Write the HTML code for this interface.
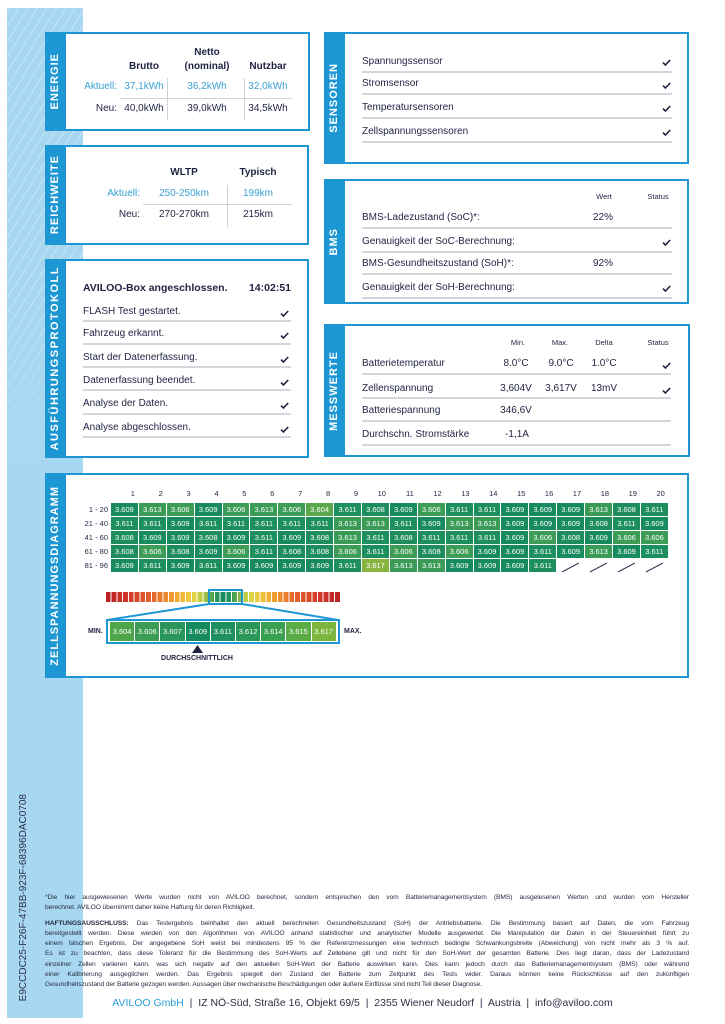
<!DOCTYPE html>
<html><head><meta charset="utf-8">
<style>
*{margin:0;padding:0;box-sizing:border-box}
html,body{width:725px;height:1024px;overflow:hidden;background:#fff;font-family:"Liberation Sans",Arial,sans-serif;color:#1f2342}
.strip{position:absolute;left:7px;top:8px;width:76px;height:1010px;background:#a8d8f1}
.stripes{position:absolute;left:7px;top:8px;width:76px;height:470px;background:repeating-linear-gradient(-58deg,rgba(255,255,255,0) 0 7px,rgba(255,255,255,.35) 7px 8px);-webkit-mask-image:linear-gradient(#000 60%,transparent);mask-image:linear-gradient(#000 60%,transparent)}
.p{position:absolute;border:2px solid #1c97d4;border-left:21px solid #1c97d4;background:#fff}
.tab{position:absolute;width:21px;display:flex;align-items:center;justify-content:center}
.tab span{writing-mode:vertical-rl;transform:rotate(180deg);color:#fff;font-weight:bold;font-size:11px;letter-spacing:1px;white-space:nowrap;line-height:1}
.t{position:absolute;white-space:nowrap;font-size:10px;line-height:12px;color:#1f2342}
.b{font-weight:bold}
.c{width:80px;text-align:center}
.r{width:80px;text-align:right}
.bl{color:#3aa1d3}
.sm{font-size:7.5px}
.hl{position:absolute;height:1.5px;background:#d3d6dc}
.gl{position:absolute;background:#cfd2d8}
.ck{position:absolute;width:9px;height:7px}
.grid{position:absolute;display:grid;grid-template-columns:repeat(20,26.9px);column-gap:1px;row-gap:1px;grid-auto-rows:13px}
.grid i{font-style:normal;color:#fff;font-size:7.5px;line-height:13px;text-align:center;position:relative}
.a04{background:#5aa84c}.a06{background:#3d9c56}.a08{background:#1e8d5d}.a09{background:#178a60}.a11{background:#1d8e5e}.a13{background:#3a9b57}.a17{background:#87b540}
.grid i.s::after{content:"";position:absolute;left:4px;top:8px;width:19px;height:1.4px;background:#1f2342;transform:rotate(-28deg)}
.hdr{position:absolute;display:grid;grid-template-columns:repeat(20,26.9px);column-gap:1px;left:111px;top:488px}
.hdr b{font-weight:normal;font-size:7.5px;line-height:12px;text-align:right;padding-right:3px;color:#1f2342}
.rl{position:absolute;left:56px;top:503px;width:52px;text-align:right;font-size:7.5px;line-height:14px;color:#1f2342}
.leg{position:absolute;left:110px;top:622px;display:grid;grid-template-columns:repeat(9,24.2px);column-gap:1px;grid-auto-rows:19px}
.leg i{font-style:normal;color:#fff;font-size:7.5px;line-height:19px;text-align:center}
.foot{position:absolute;left:45px;width:644px;font-size:6.7px;letter-spacing:-0.1px;line-height:10.15px;color:#2a2e45}
.foot div{text-align:justify;text-align-last:justify;white-space:normal;height:10.15px}
.foot div.last{text-align-last:left}
</style></head><body>

<div class="strip"></div>
<div class="stripes"></div>

<!-- vertical id -->
<div style="position:absolute;left:14px;top:790px;width:20px;height:216px;display:flex;align-items:center;justify-content:center">
<span style="writing-mode:vertical-rl;transform:rotate(180deg);font-size:10px;color:#2a2f4a;white-space:nowrap;line-height:1">E9CCDC25-F26F-47BB-923F-68396DAC0708</span></div>

<!-- panels -->
<div class="p" style="left:45px;top:32px;width:265px;height:99px"></div>
<div class="tab" style="left:45px;top:32px;height:99px"><span>ENERGIE</span></div>

<div class="p" style="left:45px;top:145px;width:264px;height:100px"></div>
<div class="tab" style="left:45px;top:145px;height:100px"><span>REICHWEITE</span></div>

<div class="p" style="left:45px;top:259px;width:264px;height:199px"></div>
<div class="tab" style="left:45px;top:259px;height:199px"><span style="letter-spacing:1.5px">AUSFÜHRUNGSPROTOKOLL</span></div>

<div class="p" style="left:324px;top:32px;width:365px;height:132px"></div>
<div class="tab" style="left:324px;top:32px;height:132px"><span>SENSOREN</span></div>

<div class="p" style="left:324px;top:179px;width:365px;height:125px"></div>
<div class="tab" style="left:324px;top:179px;height:125px"><span>BMS</span></div>

<div class="p" style="left:324px;top:324px;width:366px;height:133px"></div>
<div class="tab" style="left:324px;top:324px;height:133px"><span>MESSWERTE</span></div>

<div class="p" style="left:45px;top:473px;width:644px;height:205px"></div>
<div class="tab" style="left:45px;top:473px;height:205px"><span>ZELLSPANNUNGSDIAGRAMM</span></div>

<!-- ENERGIE -->
<div class="t b c" style="left:167px;top:47px">Netto</div>
<div class="t b c" style="left:104px;top:61px">Brutto</div>
<div class="t b c" style="left:167px;top:61px">(nominal)</div>
<div class="t b c" style="left:228px;top:61px">Nutzbar</div>
<div class="t r bl" style="left:37px;top:81px">Aktuell:</div>
<div class="t c bl" style="left:104px;top:81px">37,1kWh</div>
<div class="t c bl" style="left:167px;top:81px">36,2kWh</div>
<div class="t c bl" style="left:228px;top:81px">32,0kWh</div>
<div class="t r" style="left:37px;top:103px">Neu:</div>
<div class="t c" style="left:104px;top:103px">40,0kWh</div>
<div class="t c" style="left:167px;top:103px">39,0kWh</div>
<div class="t c" style="left:228px;top:103px">34,5kWh</div>
<div class="gl" style="left:120px;top:98px;width:172px;height:1px"></div>
<div class="gl" style="left:167px;top:78px;width:1px;height:42px"></div>
<div class="gl" style="left:244px;top:78px;width:1px;height:42px"></div>

<!-- REICHWEITE -->
<div class="t b c" style="left:144px;top:167px">WLTP</div>
<div class="t b c" style="left:218px;top:167px">Typisch</div>
<div class="t r bl" style="left:60px;top:188px">Aktuell:</div>
<div class="t c bl" style="left:144px;top:188px">250-250km</div>
<div class="t c bl" style="left:218px;top:188px">199km</div>
<div class="t r" style="left:60px;top:209px">Neu:</div>
<div class="t c" style="left:144px;top:209px">270-270km</div>
<div class="t c" style="left:218px;top:209px">215km</div>
<div class="gl" style="left:143px;top:204px;width:149px;height:1px"></div>
<div class="gl" style="left:227px;top:185px;width:1px;height:42px"></div>

<!-- PROTOKOLL -->
<div class="t b" style="left:83px;top:282px;font-size:10.5px">AVILOO-Box angeschlossen.</div>
<div class="t b r" style="left:211px;top:282px;font-size:10.5px">14:02:51</div>
<div class="t" style="left:83px;top:306px">FLASH Test gestartet.</div>
<div class="t" style="left:83px;top:328px">Fahrzeug erkannt.</div>
<div class="t" style="left:83px;top:352px">Start der Datenerfassung.</div>
<div class="t" style="left:83px;top:375px">Datenerfassung beendet.</div>
<div class="t" style="left:83px;top:398px">Analyse der Daten.</div>
<div class="t" style="left:83px;top:422px">Analyse abgeschlossen.</div>
<div class="hl" style="left:83px;top:320px;width:208px"></div>
<div class="hl" style="left:83px;top:343px;width:208px"></div>
<div class="hl" style="left:83px;top:366px;width:208px"></div>
<div class="hl" style="left:83px;top:389px;width:208px"></div>
<div class="hl" style="left:83px;top:413px;width:208px"></div>
<div class="hl" style="left:83px;top:436px;width:208px"></div>
<svg class="ck" style="left:280px;top:310px" viewBox="0 0 9 7"><path d="M1 3.6 L3.4 6 L8.2 1" stroke="#1f2342" stroke-width="1.6" fill="none"/></svg>
<svg class="ck" style="left:280px;top:332px" viewBox="0 0 9 7"><path d="M1 3.6 L3.4 6 L8.2 1" stroke="#1f2342" stroke-width="1.6" fill="none"/></svg>
<svg class="ck" style="left:280px;top:356px" viewBox="0 0 9 7"><path d="M1 3.6 L3.4 6 L8.2 1" stroke="#1f2342" stroke-width="1.6" fill="none"/></svg>
<svg class="ck" style="left:280px;top:379px" viewBox="0 0 9 7"><path d="M1 3.6 L3.4 6 L8.2 1" stroke="#1f2342" stroke-width="1.6" fill="none"/></svg>
<svg class="ck" style="left:280px;top:402px" viewBox="0 0 9 7"><path d="M1 3.6 L3.4 6 L8.2 1" stroke="#1f2342" stroke-width="1.6" fill="none"/></svg>
<svg class="ck" style="left:280px;top:426px" viewBox="0 0 9 7"><path d="M1 3.6 L3.4 6 L8.2 1" stroke="#1f2342" stroke-width="1.6" fill="none"/></svg>

<!-- SENSOREN -->
<div class="t" style="left:362px;top:56px">Spannungssensor</div>
<div class="t" style="left:362px;top:78px">Stromsensor</div>
<div class="t" style="left:362px;top:102px">Temperatursensoren</div>
<div class="t" style="left:362px;top:126px">Zellspannungssensoren</div>
<div class="hl" style="left:362px;top:71px;width:310px"></div>
<div class="hl" style="left:362px;top:93px;width:310px"></div>
<div class="hl" style="left:362px;top:117px;width:310px"></div>
<div class="hl" style="left:362px;top:141px;width:310px"></div>
<svg class="ck" style="left:662px;top:59px" viewBox="0 0 9 7"><path d="M1 3.6 L3.4 6 L8.2 1" stroke="#1f2342" stroke-width="1.6" fill="none"/></svg>
<svg class="ck" style="left:662px;top:82px" viewBox="0 0 9 7"><path d="M1 3.6 L3.4 6 L8.2 1" stroke="#1f2342" stroke-width="1.6" fill="none"/></svg>
<svg class="ck" style="left:662px;top:105px" viewBox="0 0 9 7"><path d="M1 3.6 L3.4 6 L8.2 1" stroke="#1f2342" stroke-width="1.6" fill="none"/></svg>
<svg class="ck" style="left:662px;top:129px" viewBox="0 0 9 7"><path d="M1 3.6 L3.4 6 L8.2 1" stroke="#1f2342" stroke-width="1.6" fill="none"/></svg>

<!-- BMS -->
<div class="t c sm" style="left:564px;top:191px">Wert</div>
<div class="t c sm" style="left:618px;top:191px">Status</div>
<div class="t" style="left:362px;top:212px">BMS-Ladezustand (SoC)*:</div>
<div class="t" style="left:593px;top:212px">22%</div>
<div class="t" style="left:362px;top:236px">Genauigkeit der SoC-Berechnung:</div>
<div class="t" style="left:362px;top:258px">BMS-Gesundheitszustand (SoH)*:</div>
<div class="t" style="left:593px;top:258px">92%</div>
<div class="t" style="left:362px;top:282px">Genauigkeit der SoH-Berechnung:</div>
<div class="hl" style="left:362px;top:227px;width:310px"></div>
<div class="hl" style="left:362px;top:251px;width:310px"></div>
<div class="hl" style="left:362px;top:273px;width:310px"></div>
<div class="hl" style="left:362px;top:297px;width:310px"></div>
<svg class="ck" style="left:662px;top:239px" viewBox="0 0 9 7"><path d="M1 3.6 L3.4 6 L8.2 1" stroke="#1f2342" stroke-width="1.6" fill="none"/></svg>
<svg class="ck" style="left:662px;top:285px" viewBox="0 0 9 7"><path d="M1 3.6 L3.4 6 L8.2 1" stroke="#1f2342" stroke-width="1.6" fill="none"/></svg>

<!-- MESSWERTE -->
<div class="t c sm" style="left:478px;top:337px">Min.</div>
<div class="t c sm" style="left:520px;top:337px">Max.</div>
<div class="t c sm" style="left:564px;top:337px">Delta</div>
<div class="t c sm" style="left:618px;top:337px">Status</div>
<div class="t" style="left:362px;top:358px">Batterietemperatur</div>
<div class="t c" style="left:476px;top:358px">8.0°C</div>
<div class="t c" style="left:521px;top:358px">9.0°C</div>
<div class="t c" style="left:564px;top:358px">1.0°C</div>
<div class="t" style="left:362px;top:383px">Zellenspannung</div>
<div class="t c" style="left:476px;top:383px">3,604V</div>
<div class="t c" style="left:521px;top:383px">3,617V</div>
<div class="t c" style="left:564px;top:383px">13mV</div>
<div class="t" style="left:362px;top:405px">Batteriespannung</div>
<div class="t c" style="left:476px;top:405px">346,6V</div>
<div class="t" style="left:362px;top:429px">Durchschn. Stromstärke</div>
<div class="t c" style="left:477px;top:429px">-1,1A</div>
<div class="hl" style="left:362px;top:373px;width:309px"></div>
<div class="hl" style="left:362px;top:397px;width:309px"></div>
<div class="hl" style="left:362px;top:420px;width:309px"></div>
<div class="hl" style="left:362px;top:444px;width:309px"></div>
<svg class="ck" style="left:662px;top:362px" viewBox="0 0 9 7"><path d="M1 3.6 L3.4 6 L8.2 1" stroke="#1f2342" stroke-width="1.6" fill="none"/></svg>
<svg class="ck" style="left:662px;top:387px" viewBox="0 0 9 7"><path d="M1 3.6 L3.4 6 L8.2 1" stroke="#1f2342" stroke-width="1.6" fill="none"/></svg>

<!-- CELL GRID -->
<div class="hdr"><b>1</b><b>2</b><b>3</b><b>4</b><b>5</b><b>6</b><b>7</b><b>8</b><b>9</b><b>10</b><b>11</b><b>12</b><b>13</b><b>14</b><b>15</b><b>16</b><b>17</b><b>18</b><b>19</b><b>20</b></div>
<div class="rl">1 - 20<br>21 - 40<br>41 - 60<br>61 - 80<br>81 - 96</div>
<div class="grid" style="left:111px;top:503px">
<i class="a09">3.609</i><i class="a13">3.613</i><i class="a06">3.606</i><i class="a09">3.609</i><i class="a06">3.606</i><i class="a13">3.613</i><i class="a06">3.606</i><i class="a04">3.604</i><i class="a11">3.611</i><i class="a08">3.608</i><i class="a09">3.609</i><i class="a06">3.606</i><i class="a11">3.611</i><i class="a11">3.611</i><i class="a09">3.609</i><i class="a09">3.609</i><i class="a09">3.609</i><i class="a13">3.613</i><i class="a08">3.608</i><i class="a11">3.611</i>
<i class="a11">3.611</i><i class="a11">3.611</i><i class="a09">3.609</i><i class="a11">3.611</i><i class="a11">3.611</i><i class="a11">3.611</i><i class="a11">3.611</i><i class="a11">3.611</i><i class="a13">3.613</i><i class="a13">3.613</i><i class="a11">3.611</i><i class="a09">3.609</i><i class="a13">3.613</i><i class="a13">3.613</i><i class="a09">3.609</i><i class="a09">3.609</i><i class="a09">3.609</i><i class="a08">3.608</i><i class="a11">3.611</i><i class="a09">3.609</i>
<i class="a08">3.608</i><i class="a09">3.609</i><i class="a09">3.609</i><i class="a08">3.608</i><i class="a09">3.609</i><i class="a11">3.611</i><i class="a09">3.609</i><i class="a08">3.608</i><i class="a13">3.613</i><i class="a11">3.611</i><i class="a08">3.608</i><i class="a11">3.611</i><i class="a11">3.611</i><i class="a11">3.611</i><i class="a09">3.609</i><i class="a06">3.606</i><i class="a08">3.608</i><i class="a09">3.609</i><i class="a06">3.606</i><i class="a06">3.606</i>
<i class="a08">3.608</i><i class="a06">3.606</i><i class="a08">3.608</i><i class="a09">3.609</i><i class="a06">3.606</i><i class="a11">3.611</i><i class="a08">3.608</i><i class="a08">3.608</i><i class="a06">3.606</i><i class="a11">3.611</i><i class="a06">3.606</i><i class="a08">3.608</i><i class="a06">3.606</i><i class="a09">3.609</i><i class="a09">3.609</i><i class="a11">3.611</i><i class="a09">3.609</i><i class="a13">3.613</i><i class="a09">3.609</i><i class="a11">3.611</i>
<i class="a09">3.609</i><i class="a11">3.611</i><i class="a09">3.609</i><i class="a11">3.611</i><i class="a09">3.609</i><i class="a09">3.609</i><i class="a09">3.609</i><i class="a09">3.609</i><i class="a11">3.611</i><i class="a17">3.617</i><i class="a13">3.613</i><i class="a13">3.613</i><i class="a09">3.609</i><i class="a09">3.609</i><i class="a09">3.609</i><i class="a11">3.611</i><i class="s"></i><i class="s"></i><i class="s"></i><i class="s"></i>
</div>

<!-- gradient bar -->
<div style="position:absolute;left:106px;top:592px;width:235px;height:10px;background:repeating-linear-gradient(90deg,rgba(255,255,255,0) 0 4.73px,#fff 4.73px 5.73px),linear-gradient(90deg,#b81f24 0%,#d33a2a 10%,#e4672c 20%,#f09a30 28%,#f0c43a 34%,#e2d644 38%,#a8c443 42%,#52a64e 45%,#1d8e5e 48%,#178a60 50%,#1d8e5e 52%,#52a64e 55%,#a8c443 58%,#e2d644 62%,#f0c43a 66%,#f09a30 72%,#e4672c 80%,#d33a2a 90%,#b81f24 100%)"></div>
<div style="position:absolute;left:208px;top:589px;width:35px;height:16px;border:2px solid #1c97d4"></div>
<svg style="position:absolute;left:0;top:0" width="725" height="700">
<line x1="209" y1="604" x2="107" y2="620" stroke="#1c97d4" stroke-width="2"/>
<line x1="242" y1="604" x2="338" y2="620" stroke="#1c97d4" stroke-width="2"/>
<polygon points="197.5,645 192,653 203,653" fill="#1f2342"/>
</svg>
<div style="position:absolute;left:106px;top:619px;width:234px;height:25px;border:2px solid #1c97d4"></div>
<div class="leg">
<i style="background:#4fa64a">3.604</i><i style="background:#3b9d55">3.606</i><i style="background:#2b965a">3.607</i><i style="background:#178b60">3.609</i><i style="background:#1f9060">3.611</i><i style="background:#2a9758">3.612</i><i style="background:#3aa052">3.614</i><i style="background:#5aac47">3.615</i><i style="background:#7db63e">3.617</i>
</div>
<div class="t b" style="left:88px;top:626px;font-size:7px">MIN.</div>
<div class="t b" style="left:344px;top:626px;font-size:7px">MAX.</div>
<div class="t b" style="left:147px;top:653px;width:100px;text-align:center;font-size:7px">DURCHSCHNITTLICH</div>

<!-- footer -->
<div class="foot" style="top:893px">
<div>*Die hier ausgewiesenen Werte wurden nicht von AVILOO berechnet, sondern entsprechen den vom Batteriemanagementsystem (BMS) ausgelesenen Werten und wurden vom Hersteller</div>
<div class="last">berechnet. AVILOO übernimmt daher keine Haftung für deren Richtigkeit.</div>
</div>
<div class="foot" style="top:919px">
<div><b>HAFTUNGSAUSSCHLUSS:</b> Das Testergebnis beinhaltet den aktuell berechneten Gesundheitszustand (SoH) der Antriebsbatterie. Die Bestimmung basiert auf Daten, die vom Fahrzeug</div>
<div>bereitgestellt werden. Diese werden von den Algorithmen von AVILOO anhand statistischer und analytischer Modelle ausgewertet. Die Manipulation der Daten in der Steuereinheit führt zu</div>
<div>einem falschen Ergebnis. Der angegebene SoH weist bei mindestens 95 % der Referenzmessungen eine technisch bedingte Schwankungsbreite (Abweichung) von nicht mehr als 3 % auf.</div>
<div>Es ist zu beachten, dass diese Toleranz für die Bestimmung des SoH-Werts auf Zellebene gilt und nicht für den SoH-Wert der gesamten Batterie. Dies liegt daran, dass der Ladezustand</div>
<div>einzelner Zellen variieren kann, was sich negativ auf den aktuellen SoH-Wert der Batterie auswirken kann. Dies kann jedoch durch das Batteriemanagementsystem (BMS) oder während</div>
<div>einer Kalibrierung ausgeglichen werden. Das Ergebnis spiegelt den Zustand der Batterie zum Zeitpunkt des Tests wider. Daraus können keine Rückschlüsse auf den zukünftigen</div>
<div class="last">Gesundheitszustand der Batterie gezogen werden. Aussagen über mechanische Beschädigungen oder äußere Einflüsse sind nicht Teil dieser Diagnose.</div>
</div>
<div style="position:absolute;left:0;top:996px;width:725px;text-align:center;font-size:10.5px;line-height:14px;color:#2a2e45;white-space:nowrap"><span style="color:#2a9fd6">AVILOO GmbH</span> &nbsp;|&nbsp; IZ NÖ-Süd, Straße 16, Objekt 69/5 &nbsp;|&nbsp; 2355 Wiener Neudorf &nbsp;|&nbsp; Austria &nbsp;|&nbsp; info@aviloo.com</div>

</body></html>
